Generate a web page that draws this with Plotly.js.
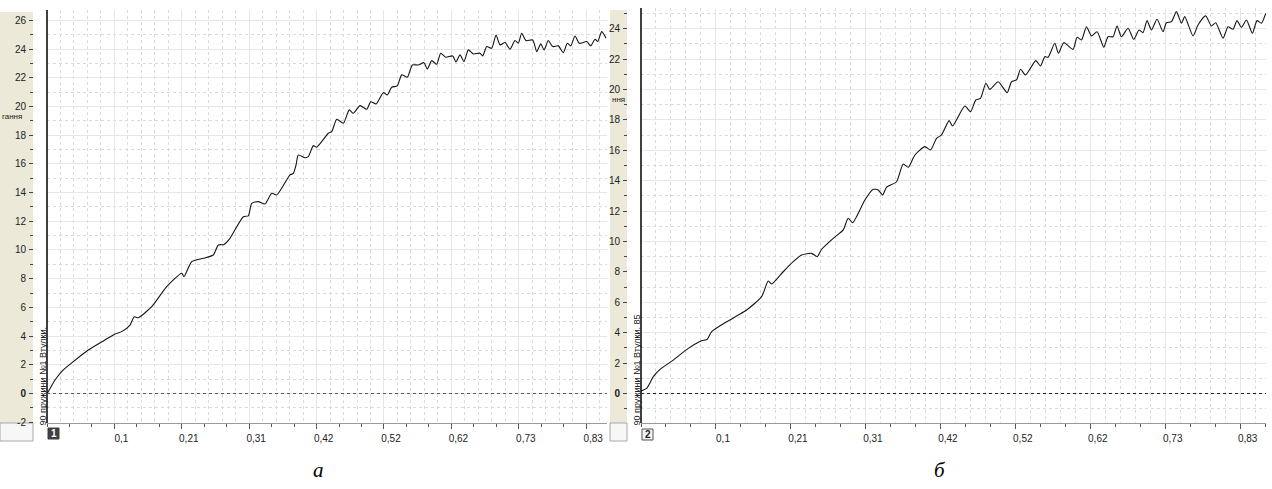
<!DOCTYPE html>
<html>
<head>
<meta charset="utf-8">
<script src="https://cdn.plot.ly/plotly-3.0.1.min.js"></script>
<style>html,body{margin:0;padding:0;background:#fff;}#chart{width:1272px;height:489px;}</style>
</head>
<body>
<div id="chart"></div>
<script>
// ---- data ----
const xTickVals = [0.1042, 0.2083, 0.3125, 0.4167, 0.5208, 0.625, 0.7292, 0.8333];
const xTickText = ['0,1', '0,21', '0,31', '0,42', '0,52', '0,62', '0,73', '0,83'];
const leftYTickVals = [-2, 0, 2, 4, 6, 8, 10, 12, 14, 16, 18, 20, 22, 24, 26];
const rightYTickVals = [-2, 0, 2, 4, 6, 8, 10, 12, 14, 16, 18, 20, 22, 24];
const panelTitles = ['90 пружини №1 Втулки.', '90 пружини №1 Втулки. 85'];
const axisLabelFragments = ['гання', 'ння'];
const panelNumbers = ['1', '2'];
const panelLetters = ['а', 'б'];

const leftX = [0, 0.002, 0.0124, 0.0252, 0.0406, 0.0638, 0.0896, 0.1051, 0.1155, 0.1283, 0.1349, 0.1411, 0.1618, 0.185, 0.2082, 0.2117, 0.2236, 0.2416, 0.257, 0.2648, 0.2736, 0.2828, 0.3034, 0.3111, 0.3164, 0.3266, 0.3369, 0.3473, 0.355, 0.3756, 0.3807, 0.3849, 0.3884, 0.3988, 0.4039, 0.4116, 0.4168, 0.4348, 0.44, 0.4478, 0.458, 0.4672, 0.4734, 0.4838, 0.4941, 0.5003, 0.5085, 0.5198, 0.526, 0.5328, 0.5414, 0.5482, 0.5569, 0.5646, 0.5739, 0.5827, 0.5878, 0.5946, 0.6023, 0.6085, 0.6162, 0.627, 0.6321, 0.6383, 0.6445, 0.6512, 0.6589, 0.6692, 0.6734, 0.6796, 0.6873, 0.694, 0.7002, 0.7079, 0.7156, 0.7233, 0.7284, 0.7337, 0.7403, 0.7507, 0.7569, 0.7631, 0.7682, 0.7748, 0.7816, 0.7903, 0.798, 0.8042, 0.8094, 0.8161, 0.8227, 0.8342, 0.8403, 0.847, 0.8512, 0.8573, 0.864];
const leftY = [0, 0.13, 0.94, 1.64, 2.22, 3.03, 3.73, 4.15, 4.31, 4.77, 5.35, 5.28, 6.05, 7.44, 8.38, 8.14, 9.18, 9.42, 9.65, 10.35, 10.38, 10.81, 12.32, 12.37, 13.25, 13.37, 13.2, 13.95, 13.83, 15.23, 15.34, 15.92, 16.62, 16.43, 16.5, 17.27, 17.16, 18.13, 18.24, 19.11, 18.83, 19.76, 19.53, 20.06, 19.8, 20.33, 20.17, 20.96, 20.8, 21.34, 21.43, 22.2, 22.03, 22.89, 22.89, 23.05, 22.61, 23.19, 22.94, 23.71, 23.43, 23.52, 23.1, 23.59, 23.12, 23.94, 23.66, 23.71, 23.52, 24.17, 24.06, 24.98, 24.29, 24.45, 23.99, 24.59, 24.4, 25.1, 24.59, 24.63, 23.82, 24.36, 23.94, 24.59, 24.17, 24.22, 23.75, 24.4, 24.22, 24.91, 24.4, 24.52, 24.22, 24.68, 24.52, 25.21, 24.75];

const rightX = [0, 0.001, 0.0079, 0.0171, 0.0264, 0.0449, 0.0657, 0.0843, 0.0921, 0.0982, 0.119, 0.1351, 0.1468, 0.1676, 0.1768, 0.1815, 0.1976, 0.2115, 0.2232, 0.2371, 0.2449, 0.251, 0.2671, 0.281, 0.2879, 0.294, 0.3111, 0.3226, 0.3296, 0.3357, 0.3413, 0.3551, 0.3643, 0.3713, 0.3806, 0.3944, 0.4024, 0.4107, 0.4176, 0.4282, 0.4329, 0.45, 0.4579, 0.4653, 0.4718, 0.4792, 0.4847, 0.4963, 0.5088, 0.5149, 0.5218, 0.5274, 0.5343, 0.5486, 0.5551, 0.5611, 0.5657, 0.575, 0.5801, 0.5875, 0.6004, 0.606, 0.6121, 0.619, 0.626, 0.6338, 0.6431, 0.649, 0.656, 0.6615, 0.6676, 0.6768, 0.6847, 0.6921, 0.6976, 0.7032, 0.7093, 0.7171, 0.7254, 0.7301, 0.7371, 0.744, 0.751, 0.7556, 0.7671, 0.774, 0.7847, 0.7926, 0.7986, 0.8088, 0.8157, 0.8226, 0.8282, 0.8343, 0.8413, 0.8496, 0.856, 0.8621, 0.8681];
const rightY = [0.15, 0.18, 0.34, 1.11, 1.59, 2.2, 2.97, 3.47, 3.57, 4.07, 4.72, 5.16, 5.49, 6.37, 7.4, 7.2, 8.01, 8.67, 9.11, 9.22, 9.0, 9.49, 10.21, 10.76, 11.53, 11.24, 12.73, 13.43, 13.39, 13.06, 13.57, 13.93, 15.1, 14.88, 15.69, 16.24, 16.02, 16.79, 17.01, 17.95, 17.6, 18.91, 18.54, 19.31, 19.42, 20.41, 20.01, 20.51, 19.79, 20.51, 20.63, 21.33, 20.95, 21.9, 21.55, 22.16, 22.12, 23.04, 22.38, 23.08, 22.64, 23.43, 23.26, 24.13, 23.52, 23.8, 22.78, 23.47, 23.47, 24.18, 23.47, 24.03, 23.3, 23.91, 23.74, 24.53, 23.91, 24.62, 23.8, 24.39, 24.46, 25.12, 24.36, 24.79, 23.52, 24.24, 24.84, 24.18, 24.39, 23.37, 24.13, 23.96, 24.53, 24.09, 24.57, 23.7, 24.53, 24.36, 25.01];

// ---- layout helpers ----
const W = 1272, H = 489;
const px = v => v / W;
const py = v => (H - v) / H;
const FONT = 'Liberation Sans, Arial, sans-serif';

const lineStyle = {color: '#151515', width: 1.1, shape: 'spline', smoothing: 0.6};

const traces = [
  {x: leftX, y: leftY, xaxis: 'x', yaxis: 'y', type: 'scatter', mode: 'lines', line: lineStyle, hoverinfo: 'skip'},
  {x: rightX, y: rightY, xaxis: 'x2', yaxis: 'y2', type: 'scatter', mode: 'lines', line: lineStyle, hoverinfo: 'skip'},
  {x: [], y: [], xaxis: 'x3', yaxis: 'y', type: 'scatter', mode: 'lines'},
  {x: [], y: [], xaxis: 'x4', yaxis: 'y2', type: 'scatter', mode: 'lines'}
];

function mainX(domain, range) {
  return {
    domain: domain, range: range, anchor: domain[0] < 0.5 ? 'y' : 'y2',
    tickvals: xTickVals, ticktext: xTickText,
    ticks: 'outside', ticklen: 5, tickcolor: '#555', tickwidth: 1,
    showline: true, linecolor: '#9a9a9a', linewidth: 1,
    showgrid: true, gridcolor: '#e6e6e6', gridwidth: 1,
    zeroline: false,
    minor: {dtick: 0.020833, tick0: 0, showgrid: true, griddash: 'dot', gridcolor: '#dadada', gridwidth: 1, ticks: ''},
    tickfont: {family: FONT, size: 10, color: '#222'},
    ticklabelshift: 7, ticklabelstandoff: 1,
    fixedrange: true
  };
}
function overlayX(over, range, anchor) {
  return {
    overlaying: over, range: range, anchor: anchor,
    tick0: 0, dtick: 0.034722, ticks: 'outside', ticklen: 3, tickcolor: '#555',
    showticklabels: false, showgrid: false, zeroline: false, showline: false, fixedrange: true
  };
}
function mainY(domain, range, vals, pos) {
  return {
    domain: domain, range: range, anchor: 'free', position: pos,
    tickvals: vals, ticktext: vals.map(v => v === 0 ? '<b>0</b>' : String(v)),
    ticks: 'outside', ticklen: 4, tickcolor: '#444', tickwidth: 1,
    showline: false, showgrid: true, gridcolor: '#e6e6e6', gridwidth: 1, zeroline: false,
    minor: {dtick: 1, tick0: 0, showgrid: true, griddash: 'dot', gridcolor: '#dadada', gridwidth: 1, ticks: 'outside', ticklen: 3, tickcolor: '#444'},
    tickfont: {family: FONT, size: 10, color: '#222'},
    ticklabelstandoff: 1,
    fixedrange: true
  };
}

const leftRange = [0, 0.8655], rightRange = [0, 0.8685];
const layout = {
  width: W, height: H,
  margin: {l: 0, r: 0, t: 0, b: 0, pad: 0},
  paper_bgcolor: '#ffffff', plot_bgcolor: '#ffffff',
  showlegend: false,
  xaxis: mainX([px(47), px(607)], leftRange),
  xaxis2: mainX([px(641), px(1266)], rightRange),
  xaxis3: overlayX('x', leftRange, 'y'),
  xaxis4: overlayX('x2', rightRange, 'y2'),
  yaxis: mainY([py(423), py(10)], [-2.056, 26.72], leftYTickVals, px(33)),
  yaxis2: mainY([py(423), py(8)], [-1.94, 25.36], rightYTickVals, px(627)),
  shapes: [
    {type: 'rect', xref: 'paper', yref: 'paper', x0: 0, x1: px(33), y0: py(423), y1: py(12), fillcolor: '#ece9d8', line: {width: 0}, layer: 'below'},
    {type: 'rect', xref: 'paper', yref: 'paper', x0: px(610), x1: px(627), y0: py(423), y1: py(10), fillcolor: '#ece9d8', line: {width: 0}, layer: 'below'},
    {type: 'rect', xref: 'paper', yref: 'paper', x0: 0, x1: px(33), y0: py(441), y1: py(423), fillcolor: '#f7f7f7', line: {color: '#a8a8a8', width: 1}, layer: 'below'},
    {type: 'rect', xref: 'paper', yref: 'paper', x0: px(610), x1: px(627), y0: py(441), y1: py(423), fillcolor: '#f7f7f7', line: {color: '#a8a8a8', width: 1}, layer: 'below'},
    {type: 'line', xref: 'x domain', yref: 'y domain', x0: 0, x1: 0, y0: 0, y1: 1, line: {color: '#000', width: 1.5}},
    {type: 'line', xref: 'x2 domain', yref: 'y2 domain', x0: 0, x1: 0, y0: 0, y1: 1, line: {color: '#000', width: 1.5}},
    {type: 'line', xref: 'x domain', yref: 'y', x0: 0, x1: 1, y0: 0, y1: 0, line: {color: '#5a5a5a', width: 1.2, dash: 'dot'}, layer: 'above'},
    {type: 'line', xref: 'x2 domain', yref: 'y2', x0: 0, x1: 1, y0: 0, y1: 0, line: {color: '#222', width: 1, dash: 'dot'}, layer: 'above'},
    {type: 'rect', xref: 'paper', yref: 'paper', x0: px(48), x1: px(59), y0: py(439), y1: py(428), fillcolor: '#3f3f3f', line: {color: '#3f3f3f', width: 1}},
    {type: 'rect', xref: 'paper', yref: 'paper', x0: px(642), x1: px(653), y0: py(440), y1: py(429), fillcolor: '#f4f4f4', line: {color: '#555', width: 1}}
  ],
  annotations: [
    {xref: 'paper', yref: 'paper', x: px(42), y: py(428), xanchor: 'center', yanchor: 'bottom', text: panelTitles[0], textangle: -90, showarrow: false, font: {family: FONT, size: 9, color: '#222'}},
    {xref: 'paper', yref: 'paper', x: px(636), y: py(428), xanchor: 'center', yanchor: 'bottom', text: panelTitles[1], textangle: -90, showarrow: false, font: {family: FONT, size: 9, color: '#222'}},
    {xref: 'paper', yref: 'paper', x: 0, y: py(117), xanchor: 'left', yanchor: 'middle', text: axisLabelFragments[0], showarrow: false, font: {family: FONT, size: 8, color: '#222'}},
    {xref: 'paper', yref: 'paper', x: px(610), y: py(99), xanchor: 'left', yanchor: 'middle', text: axisLabelFragments[1], showarrow: false, font: {family: FONT, size: 8, color: '#222'}},
    {xref: 'paper', yref: 'paper', x: px(53.5), y: py(433.5), xanchor: 'center', yanchor: 'middle', text: '<b>' + panelNumbers[0] + '</b>', showarrow: false, font: {family: FONT, size: 10, color: '#fff'}},
    {xref: 'paper', yref: 'paper', x: px(647.5), y: py(434.5), xanchor: 'center', yanchor: 'middle', text: '<b>' + panelNumbers[1] + '</b>', showarrow: false, font: {family: FONT, size: 10, color: '#222'}},
    {xref: 'paper', yref: 'paper', x: px(318), y: py(470), xanchor: 'center', yanchor: 'middle', text: '<i>' + panelLetters[0] + '</i>', showarrow: false, font: {family: 'Liberation Serif, Times New Roman, serif', size: 21, color: '#000'}},
    {xref: 'paper', yref: 'paper', x: px(940), y: py(470), xanchor: 'center', yanchor: 'middle', text: '<i>' + panelLetters[1] + '</i>', showarrow: false, font: {family: 'Liberation Serif, Times New Roman, serif', size: 21, color: '#000'}}
  ]
};

Plotly.newPlot('chart', traces, layout, {staticPlot: true, displayModeBar: false});
</script>
</body>
</html>
